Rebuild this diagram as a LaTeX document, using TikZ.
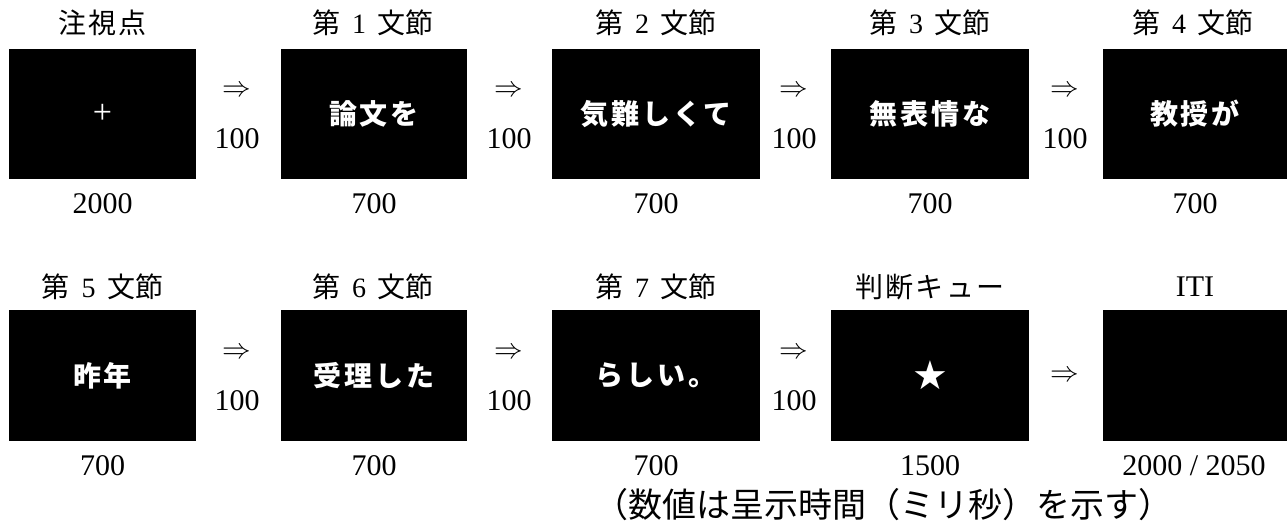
\documentclass[tikz,border=0pt]{standalone}
\usepackage{fontspec}
\setmainfont{Liberation Serif}
\newfontfamily\cjk{Noto Sans CJK JP}
\newfontfamily\cjkbox{Noto Sans CJK JP}[LetterSpace=10]
\newfontfamily\sym{DejaVu Sans}
\begin{document}
\begin{tikzpicture}[x=1pt,y=-1pt,
  scr/.style={fill=black,draw=none,text=white,inner sep=0pt,minimum height=130pt,
    font=\fontsize{28}{28}\selectfont\cjkbox\bfseries},
  ttl/.style={inner sep=0pt,font=\fontsize{28}{28}\selectfont},
  num/.style={inner sep=0pt,font=\fontsize{30}{30}\selectfont},
  arr/.style={inner sep=0pt,font=\fontsize{24.88}{25}\selectfont,scale=1.15,transform shape}]
\useasboundingbox (0,0) rectangle (1287,526);
% row 1 boxes
\node[scr,minimum width=187pt] (b1) at (102.5,114) {\fontsize{34}{34}\selectfont\rmfamily\mdseries +};
\node[scr,minimum width=186pt] (b2) at (374,114) {論文を};
\node[scr,minimum width=208pt] (b3) at (656,114) {気難しくて};
\node[scr,minimum width=198pt] (b4) at (930,114) {無表情な};
\node[scr,minimum width=184pt] (b5) at (1195,114) {教授が};
% row 2 boxes
\node[scr,minimum width=187pt] (b6) at (102.5,375.5) {昨年};
\node[scr,minimum width=186pt] (b7) at (374,375.5) {受理した};
\node[scr,minimum width=208pt] (b8) at (656,375.5) {らしい。};
\node[scr,minimum width=198pt] (b9) at (930,375.5) {\fontsize{40}{40}\selectfont\sym\mdseries ★};
\node[scr,minimum width=184pt] (b10) at (1195,375.5) {};
% titles
\node[ttl] (t1) at (102.5,23) {{\cjk\addfontfeature{LetterSpace=8}注視点}};
\node[ttl] (t2) at (373,23) {{\cjk 第}\, 1\, {\cjk 文節}};
\node[ttl] (t3) at (656,23) {{\cjk 第}\, 2\, {\cjk 文節}};
\node[ttl] (t4) at (930,23) {{\cjk 第}\, 3\, {\cjk 文節}};
\node[ttl] (t5) at (1193,23) {{\cjk 第}\, 4\, {\cjk 文節}};
\node[ttl] (t6) at (102.5,287) {{\cjk 第}\, 5\, {\cjk 文節}};
\node[ttl] (t7) at (373,287) {{\cjk 第}\, 6\, {\cjk 文節}};
\node[ttl] (t8) at (656,287) {{\cjk 第}\, 7\, {\cjk 文節}};
\node[ttl] (t9) at (930,287) {{\cjk\addfontfeature{LetterSpace=8}判断キュー}};
\node[ttl,font=\fontsize{30}{30}\selectfont] (t10) at (1195,287) {ITI};
% durations
\node[num] (d1) at (102.5,204) {2000};
\node[num] (d2) at (374,204) {700};
\node[num] (d3) at (656,204) {700};
\node[num] (d4) at (930,204) {700};
\node[num] (d5) at (1195,204) {700};
\node[num] (d6) at (102.5,466) {700};
\node[num] (d7) at (374,466) {700};
\node[num] (d8) at (656,466) {700};
\node[num] (d9) at (930,466) {1500};
\node[num] (d10) at (1194,466) {2000 / 2050};
% arrows row 1
\node[arr] (a1) at (237,91) {$\Rightarrow$};
\node[arr] (a2) at (509,91) {$\Rightarrow$};
\node[arr] (a3) at (794,91) {$\Rightarrow$};
\node[arr] (a4) at (1065,91) {$\Rightarrow$};
\node[num] (i1) at (237,139) {100};
\node[num] (i2) at (509,139) {100};
\node[num] (i3) at (794,139) {100};
\node[num] (i4) at (1065,139) {100};
% arrows row 2
\node[arr] (a6) at (237,353) {$\Rightarrow$};
\node[arr] (a7) at (509,353) {$\Rightarrow$};
\node[arr] (a8) at (794,353) {$\Rightarrow$};
\node[arr] (a9) at (1065,376) {$\Rightarrow$};
\node[num] (i6) at (237,401) {100};
\node[num] (i7) at (509,401) {100};
\node[num] (i8) at (794,401) {100};
% footnote
\node[inner sep=0pt,font=\fontsize{34}{34}\selectfont\cjk] (fn) at (883,505) {（数値は呈示時間（ミリ秒）を示す）};
\end{tikzpicture}
\end{document}
